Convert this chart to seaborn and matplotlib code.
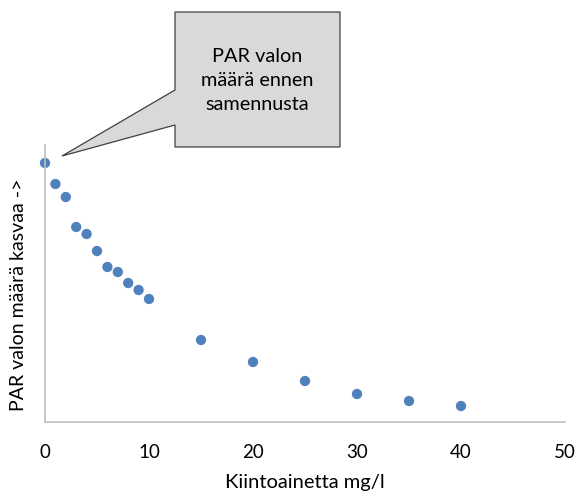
import matplotlib
matplotlib.use("Agg")
import matplotlib.pyplot as plt
from matplotlib.patches import Polygon
import seaborn as sns
import pandas as pd

# data (y in arbitrary units)
kiintoaine = [0, 1, 2, 3, 4, 5, 6, 7, 8, 9, 10, 15, 20, 25, 30, 35, 40]
par_valo = [259, 238, 225, 195, 188, 171, 155, 150, 139, 132, 123, 82, 60, 41, 28, 21, 16]
x_ticks = [0, 10, 20, 30, 40, 50]
x_label = "Kiintoainetta mg/l"
y_label = "PAR valon määrä kasvaa ->"
callout_text = "PAR valon\nmäärä ennen\nsamennusta"

sns.set_theme(style="white")
plt.rcParams['font.family'] = ['Lato', 'DejaVu Sans']

W, H = 577, 496
fig = plt.figure(figsize=(W / 100, H / 100), dpi=100)
ax = fig.add_axes([45 / W, (H - 422) / H, 520 / W, 277 / H])

df = pd.DataFrame({"x": kiintoaine, "y": par_valo})
sns.scatterplot(data=df, x="x", y="y", ax=ax, color="#4f81bd", s=55,
                edgecolor="none", clip_on=False)

ax.set_xlim(0, 50)
ax.set_ylim(0, 277)
ax.set_xticks(x_ticks)
ax.set_xticklabels([str(t) for t in x_ticks], fontsize=13.5, color="#000000")
ax.set_yticks([])
ax.tick_params(axis="x", length=0, pad=16)
for s in ["top", "right"]:
    ax.spines[s].set_visible(False)
for s in ["left", "bottom"]:
    ax.spines[s].set_color("#bfbfbf")
    ax.spines[s].set_linewidth(1.2)
ax.set_xlabel(x_label, fontsize=14.5, color="#000000")
ax.xaxis.set_label_coords(0.5, -(474 - 422) / 277)
ax.set_ylabel(y_label, fontsize=14, color="#000000")
ax.yaxis.set_label_coords(-18 / 520, 0.458)

# callout box (pixel coords from top-left -> figure fraction)
pts_px = [(175, 12), (340, 12), (340, 147), (175, 147), (175, 125), (62, 156), (175, 90)]
pts = [(x / W, (H - y) / H) for x, y in pts_px]
poly = Polygon(pts, closed=True, facecolor="#d9d9d9", edgecolor="#404040",
               linewidth=0.9, transform=fig.transFigure)
fig.add_artist(poly)
fig.text(257.5 / W, (H - 81) / H, callout_text, ha="center", va="center",
         fontsize=14.3, color="#000000", linespacing=1.5)

fig.savefig("out.png", dpi=100, facecolor="white")
